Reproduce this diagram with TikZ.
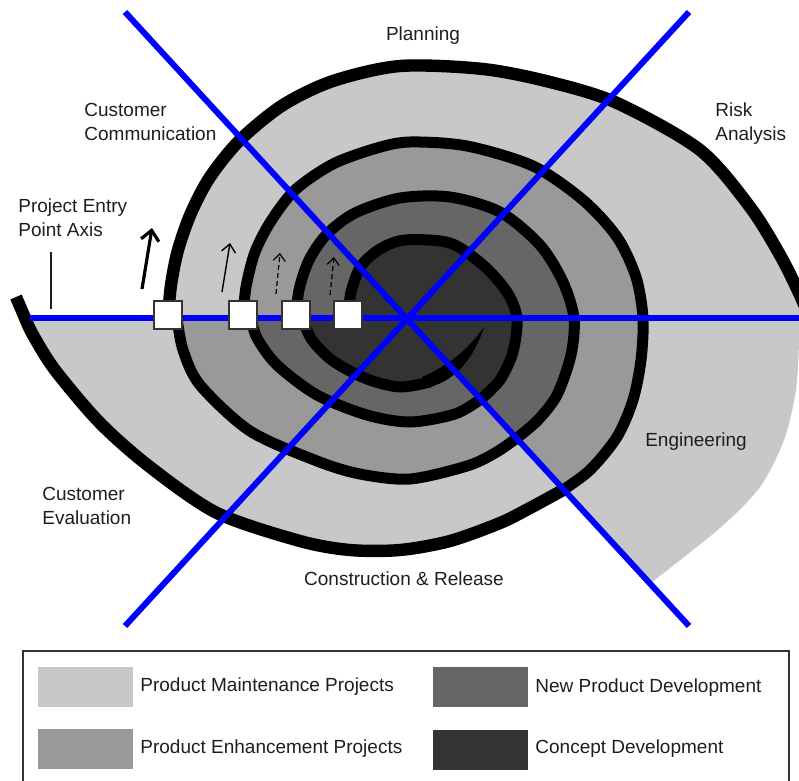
\documentclass[tikz,border=0pt]{standalone}
\usepackage{fontspec}
\setmainfont{Liberation Sans}
\usetikzlibrary{arrows.meta}
\definecolor{maint}{HTML}{C8C8C8}
\definecolor{enhance}{HTML}{999999}
\definecolor{newprod}{HTML}{666666}
\definecolor{concept}{HTML}{333333}
\definecolor{axisblue}{RGB}{0,0,255}
\definecolor{ink}{HTML}{1E1E1E}
\newcommand\topOne{-- plot[smooth] coordinates {(168,318) (171,285) (178,250) (191,213) (210,177) (240,140) (283,105) (333,81) (400,66) (483,69) (550,82) (617,103) (700,150) (750,207) (780,255) (799,293) (815,330)}}
\newcommand\topTwo{-- plot[smooth] coordinates {(243,318) (246,287) (255,252) (271,221) (295,190) (333,164) (377,148) (410,142) (467,146) (533,166) (583,200) (617,237) (636,277) (643,318) (641,360) (633,400) (617,437) (590,470) (563,490)}}
\newcommand\topThree{-- plot[smooth] coordinates {(296,318) (299,290) (309,260) (327,234) (355,213) (400,198) (450,197) (500,212) (540,245) (563,282) (574,318) (571,355) (557,395) (538,420) (517,438)}}
\newcommand\topFour{-- plot[smooth] coordinates {(348,318) (351,292) (361,266) (380,249) (405,240) (450,243) (483,265) (507,292) (517,318) (513,352) (500,380) (481,399)}}
\newcommand\botOne{-- plot[smooth] coordinates {(563,490) (530,508) (500,523) (450,541) (400,550) (350,550) (300,541) (217,513) (150,467) (100,423) (55,370) (33,335) (25,318)}}
\newcommand\botTwo{-- plot[smooth] coordinates {(517,438) (495,453) (467,466) (410,479) (360,474) (317,461) (250,431) (200,385) (183,350) (177,318)}}
\newcommand\botThree{-- plot[smooth] coordinates {(481,399) (455,414) (410,422) (367,415) (317,395) (277,365) (257,338) (251,318)}}
\newcommand\botFour{-- plot[smooth] coordinates {(452,366) (433,380) (400,387) (367,379) (333,361) (312,340) (302,318)}}
\begin{document}
\begin{tikzpicture}[
	x=0.5bp, y=-0.5bp,
	font=\fontsize{9.5bp}{12bp}\selectfont,
	pm/.style={fill=maint},
	pe/.style={fill=enhance},
	np/.style={fill=newprod},
	cp/.style={fill=concept},
	arm/.style={line width=5.5bp, line cap=round, line join=round},
	outerarm/.style={arm, line width=6.2bp},
	ax/.style={axisblue, line width=3bp},
	entry/.style={draw=concept, fill=white, line width=0.7bp, minimum size=14bp, inner sep=0pt},
	lbl/.style={text=ink, inner sep=0pt},
	sw/.style={minimum width=47.5bp, minimum height=20bp, inner sep=0pt},
	]
\useasboundingbox (0,0) rectangle (799,781);
\coordinate (hub) at (407,318);
\fill[pm] (hub) \topOne -- (812,340) -- plot[smooth] coordinates {(799,342) (796,390) (784,440) (760,487) (720,528) (652,582)} -- cycle;
\fill[pm] (hub) \botOne -- cycle;
\fill[pe] (hub) \topTwo -- cycle;
\fill[pe] (hub) \botTwo -- cycle;
\fill[np] (hub) \topThree -- cycle;
\fill[np] (hub) \botThree -- cycle;
\fill[cp] (hub) \topFour -- cycle;
\fill[cp] (hub) \botFour -- cycle;
\draw[outerarm] (168,318) \topOne;
\draw[arm] (243,318) \topTwo;
\draw[arm] (296,318) \topThree;
\draw[arm] (348,318) \topFour;
\draw[outerarm, line cap=butt] (563,490) \botOne -- (16,297);
\draw[arm] (517,438) \botTwo;
\draw[arm] (481,399) \botThree;
\draw[arm] (430,382) -- plot[smooth] coordinates {(430,382) (400,387) (367,379) (333,361) (312,340) (302,318)};
\fill (424,388) .. controls (452,384) and (473,361) .. (484,327) .. controls (466,352) and (447,366) .. (422,377) -- cycle;
\coordinate (axW) at (30,318);
\coordinate (axE) at (799,318);
\coordinate (axNW) at (125,12);
\coordinate (axSE) at (689,626);
\coordinate (axNE) at (689,12);
\coordinate (axSW) at (125,626);
\draw[ax] (axW) -- (axE);
\draw[ax] (axNW) -- (axSE);
\draw[ax] (axNE) -- (axSW);
\node[entry] (e1) at (168,315) {};
\node[entry] (e2) at (243,315) {};
\node[entry] (e3) at (296,315) {};
\node[entry] (e4) at (348,315) {};
\draw[line width=1.6bp, -{Straight Barb[length=5bp,width=9bp]}] (142,289) -- (152,228);
\draw[line width=0.7bp, -{Straight Barb[length=4bp,width=7bp]}] (222,292) -- (230,243);
\draw[line width=0.6bp, dash pattern=on 2.5bp off 1.5bp, -{Straight Barb[length=3.5bp,width=6bp]}] (276,294) -- (280,253);
\draw[line width=0.6bp, dash pattern=on 2.5bp off 1.5bp, -{Straight Barb[length=3.5bp,width=6bp]}] (330,295) -- (334,257);
\coordinate (tickTop) at (51,252);
\coordinate (tickBot) at (51,309);
\draw[line width=1.3bp, ink] (tickTop) -- (tickBot);
\node[lbl] (planning) at (423,36) {Planning};
\node[lbl, anchor=west, align=left] (commu) at (84,122) {Customer\\Communication};
\node[lbl, anchor=west, align=left] (risk) at (715,124) {Risk\\Analysis};
\node[lbl, anchor=west, align=left] (entryaxis) at (18,218) {Project Entry\\Point Axis};
\node[lbl] (engin) at (696,442) {Engineering};
\node[lbl, anchor=west, align=left] (evalu) at (42,506) {Customer\\Evaluation};
\node[lbl] (constr) at (404,579) {Construction \& Release};
\draw[concept, line width=1bp] (23,800) -- (23,651) -- (789,651) -- (789,800);
\node[sw, pm, anchor=north west] (sw1) at (38,667) {};
\node[sw, pe, anchor=north west] (sw2) at (38,729) {};
\node[sw, np, anchor=north west] (sw3) at (433,667) {};
\node[sw, cp, anchor=north west] (sw4) at (433,730) {};
\node[lbl, anchor=west] (txt1) at (140,687) {Product Maintenance Projects};
\node[lbl, anchor=west] (txt2) at (140,749) {Product Enhancement Projects};
\node[lbl, anchor=west] (txt3) at (535,688) {New Product Development};
\node[lbl, anchor=west] (txt4) at (535,749) {Concept Development};
\end{tikzpicture}
\end{document}
